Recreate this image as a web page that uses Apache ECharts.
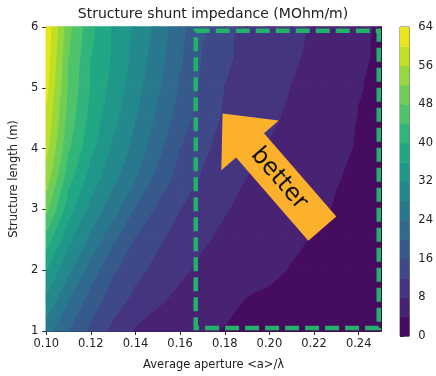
<!DOCTYPE html>
<html>
<head>
<meta charset="utf-8">
<script src="https://cdn.jsdelivr.net/npm/echarts@6/dist/echarts.min.js"></script>
<style>
  html, body { margin: 0; padding: 0; background: #ffffff; }
  #chart { width: 436px; height: 376px; }
</style>
</head>
<body>
<div id="chart"></div>
<script>
// Grid of the scan: average aperture <a>/lambda (columns) and structure length in m (rows)
const apertures = [0.10, 0.11, 0.12, 0.13, 0.14, 0.15, 0.16, 0.17, 0.18, 0.19, 0.20, 0.21, 0.22, 0.23, 0.24, 0.25];
const lengths = [1.0, 1.5, 2.0, 2.5, 3.0, 3.5, 4.0, 4.5, 5.0, 5.5, 6.0];

// Structure shunt impedance (MOhm/m), one row per length
const impedanceL10 = [25.5, 20.0, 15.0, 10.8, 7.5, 6.3, 5.4, 4.5, 3.8, 3.4, 3.1, 2.9, 2.7, 2.5, 2.3, 2.1];
const impedanceL15 = [31.0, 24.0, 18.0, 13.8, 10.8, 8.5, 7.1, 5.9, 4.8, 3.8, 3.4, 3.2, 3.0, 2.8, 2.6, 2.4];
const impedanceL20 = [36.0, 28.7, 22.0, 16.5, 13.2, 10.7, 8.6, 7.3, 6.4, 5.5, 4.6, 3.8, 3.5, 3.2, 3.0, 2.8];
const impedanceL25 = [42.0, 32.9, 26.9, 20.7, 15.7, 12.6, 10.4, 8.4, 7.3, 6.3, 5.4, 4.5, 3.8, 3.5, 3.2, 3.0];
const impedanceL30 = [49.0, 37.6, 30.5, 25.5, 19.5, 15.1, 12.0, 10.1, 8.2, 7.2, 6.3, 5.4, 4.5, 3.8, 3.5, 3.2];
const impedanceL35 = [54.0, 41.1, 34.0, 28.9, 24.0, 18.5, 14.3, 11.5, 9.6, 7.9, 7.0, 6.0, 5.0, 4.1, 3.6, 3.3];
const impedanceL40 = [57.0, 44.4, 36.9, 31.1, 26.5, 21.1, 16.0, 12.7, 10.7, 9.1, 7.7, 6.6, 5.6, 4.5, 3.8, 3.4];
const impedanceL45 = [59.0, 46.2, 38.4, 33.1, 28.0, 23.0, 18.0, 14.0, 11.4, 10.0, 8.6, 7.3, 6.1, 4.9, 3.9, 3.5];
const impedanceL50 = [61.0, 47.2, 39.5, 34.5, 29.5, 24.5, 19.5, 15.0, 11.9, 10.5, 9.2, 7.9, 6.6, 5.4, 4.1, 3.6];
const impedanceL55 = [62.0, 48.0, 40.0, 35.3, 30.5, 25.5, 20.5, 15.7, 12.6, 11.0, 9.75, 8.5, 7.2, 5.8, 4.4, 3.6];
const impedanceL60 = [63.0, 49.0, 41.0, 35.5, 31.0, 26.5, 21.0, 16.5, 12.8, 11.0, 9.8, 8.8, 7.6, 6.0, 4.6, 3.6];

// Filled contour levels and tick labels
const levels = [0, 4, 8, 12, 16, 20, 24, 28, 32, 36, 40, 44, 48, 52, 56, 60, 64];
const xTicks = [0.10, 0.12, 0.14, 0.16, 0.18, 0.20, 0.22, 0.24];
const yTicks = [1, 2, 3, 4, 5, 6];
const colorbarTicks = [0, 8, 16, 24, 32, 40, 48, 56, 64];

// Highlighted parameter region (aperture range, length range) and the "better" arrow
const regionAperture = [0.167, 0.249];
const regionLength = [1.05, 5.94];
const arrowTail = [0.2237, 2.683];
const arrowTip = [0.179, 4.576];
const arrowText = 'better';

const impedance = [impedanceL10, impedanceL15, impedanceL20, impedanceL25, impedanceL30,
  impedanceL35, impedanceL40, impedanceL45, impedanceL50, impedanceL55, impedanceL60];

// viridis, sampled at the centre of each band
const bandColors = ['#460c5f', '#482273', '#453580', '#3f4989', '#375a8c', '#306a8e', '#29798e', '#24898d',
  '#1f988a', '#22a785', '#32b57a', '#4ec36b', '#70ce57', '#97d83f', '#c1e024', '#eae51d'];

const FONT = 'DejaVu Sans';
const INK = '#222';

// Clip a polygon whose vertices carry a linearly varying value against value >= level (or <= level)
function clipByValue(poly, level, keepAbove) {
  const out = [];
  const inside = p => keepAbove ? p.v >= level : p.v <= level;
  for (let n = 0; n < poly.length; n++) {
    const P = poly[n], Q = poly[(n + 1) % poly.length];
    const pin = inside(P), qin = inside(Q);
    if (pin) out.push(P);
    if (pin !== qin) {
      const t = (level - P.v) / (Q.v - P.v);
      out.push({ x: P.x + t * (Q.x - P.x), y: P.y + t * (Q.y - P.y), v: level });
    }
  }
  return out;
}

// One grid cell -> filled contour bands (two linear triangles)
function renderCell(params, api) {
  const i = api.value(0), j = api.value(1);
  const c = [[i, j], [i + 1, j], [i + 1, j + 1], [i, j + 1]].map(([ci, cj]) => {
    const p = api.coord([apertures[ci], lengths[cj]]);
    return { x: p[0], y: p[1], v: impedance[cj][ci] };
  });
  const tris = [[c[0], c[1], c[2]], [c[0], c[2], c[3]]];
  const children = [];
  const nb = levels.length - 1;
  tris.forEach(tri => {
    const vs = tri.map(p => p.v);
    const vmin = Math.min.apply(null, vs), vmax = Math.max.apply(null, vs);
    for (let k = 0; k < nb; k++) {
      const lo = k === 0 ? -Infinity : levels[k];
      const hi = k === nb - 1 ? Infinity : levels[k + 1];
      if (vmax < lo || vmin > hi) continue;
      let poly = clipByValue(tri, lo, true);
      if (poly.length < 3) continue;
      poly = clipByValue(poly, hi, false);
      if (poly.length < 3) continue;
      children.push({
        type: 'polygon',
        shape: { points: poly.map(p => [p.x, p.y]) },
        style: { fill: bandColors[k], stroke: bandColors[k], lineWidth: 1.3, lineJoin: 'round' },
        silent: true
      });
    }
  });
  return { type: 'group', children };
}

const cells = [];
for (let j = 0; j < lengths.length - 1; j++) {
  for (let i = 0; i < apertures.length - 1; i++) cells.push([i, j]);
}
const bands = bandColors.map((_, k) => [k]);

function renderBand(params, api) {
  const k = api.value(0);
  const p0 = api.coord([0, levels[k]]);
  const p1 = api.coord([1, levels[k + 1]]);
  return {
    type: 'rect',
    shape: { x: p0[0], y: p1[1], width: p1[0] - p0[0], height: p0[1] - p1[1] + 0.5 },
    style: { fill: bandColors[k] }
  };
}

function renderRegion(params, api) {
  const p0 = api.coord([regionAperture[0], regionLength[1]]);
  const p1 = api.coord([regionAperture[1], regionLength[0]]);
  return {
    type: 'rect',
    shape: { x: p0[0], y: p0[1], width: p1[0] - p0[0], height: p1[1] - p0[1] },
    style: { fill: 'none', stroke: '#22b26a', lineWidth: 4.5, lineDash: [14, 6] }
  };
}

function renderArrow(params, api) {
  const tail = api.coord(arrowTail);
  const tip = api.coord(arrowTip);
  const dx = tip[0] - tail[0], dy = tip[1] - tail[1];
  const len = Math.hypot(dx, dy);
  const ux = dx / len, uy = dy / len;      // towards the tip
  const px = -uy, py = ux;                  // perpendicular
  const shaftHalf = 18.5, headHalf = 38, headLen = 42;
  const bx = tip[0] - ux * headLen, by = tip[1] - uy * headLen;
  const pts = [
    [tail[0] + px * shaftHalf, tail[1] + py * shaftHalf],
    [bx + px * shaftHalf, by + py * shaftHalf],
    [bx + px * headHalf, by + py * headHalf],
    [tip[0], tip[1]],
    [bx - px * headHalf, by - py * headHalf],
    [bx - px * shaftHalf, by - py * shaftHalf],
    [tail[0] - px * shaftHalf, tail[1] - py * shaftHalf]
  ];
  const f = 0.6;
  const tx = tail[0] + (bx - tail[0]) * f, ty = tail[1] + (by - tail[1]) * f;
  return {
    type: 'group',
    children: [
      { type: 'polygon', shape: { points: pts }, style: { fill: '#fbb12c' } },
      {
        type: 'text', x: tx, y: ty, rotation: -Math.atan2(-dy, -dx),
        style: { text: arrowText, fontSize: 24, fontFamily: FONT, fill: '#111', align: 'center', verticalAlign: 'middle' }
      }
    ]
  };
}

const chart = echarts.init(document.getElementById('chart'), null, { renderer: 'canvas' });

const axisLine = { show: true, lineStyle: { color: INK, width: 1 } };
const axisTick = { show: true, length: 4, lineStyle: { color: INK, width: 1 } };
const labelStyle = { color: INK, fontSize: 11.5, fontFamily: FONT };

chart.setOption({
  animation: false,
  backgroundColor: '#ffffff',
  graphic: [{
    type: 'text', x: 213, y: 14.5,
    style: { text: 'Structure shunt impedance (MOhm/m)', fontSize: 14, fontFamily: FONT, fill: INK, align: 'center', verticalAlign: 'middle' }
  }],
  grid: [
    { left: 45, top: 27, width: 336, height: 309, containLabel: false },
    { left: 400, top: 27, width: 15, height: 309, containLabel: false, show: true, borderColor: '#444', borderWidth: 0.8 }
  ],
  xAxis: [
    {
      type: 'value', gridIndex: 0, min: 0.10, max: 0.25,
      name: 'Average aperture <a>/λ', nameLocation: 'middle', nameGap: 28,
      nameTextStyle: { color: INK, fontSize: 11.5, fontFamily: FONT, verticalAlign: 'top' },
      axisLine, axisTick: Object.assign({ customValues: xTicks }, axisTick),
      axisLabel: Object.assign({ customValues: xTicks, margin: 7, formatter: v => v.toFixed(2) }, labelStyle),
      splitLine: { show: false }
    },
    {
      type: 'value', gridIndex: 0, min: 0.10, max: 0.25, position: 'top',
      axisLine, axisTick: { show: false }, axisLabel: { show: false }, splitLine: { show: false }
    },
    {
      type: 'value', gridIndex: 1, min: 0, max: 1, show: false
    }
  ],
  yAxis: [
    {
      type: 'value', gridIndex: 0, min: 1, max: 6, interval: 1,
      name: 'Structure length (m)', nameLocation: 'middle', nameGap: 17, nameRotate: 90,
      nameTextStyle: { color: INK, fontSize: 11.5, fontFamily: FONT },
      axisLine, axisTick: Object.assign({ customValues: yTicks }, axisTick),
      axisLabel: Object.assign({ customValues: yTicks, margin: 8 }, labelStyle),
      splitLine: { show: false }
    },
    {
      type: 'value', gridIndex: 0, min: 1, max: 6, position: 'right',
      axisLine, axisTick: { show: false }, axisLabel: { show: false }, splitLine: { show: false }
    },
    {
      type: 'value', gridIndex: 1, min: 0, max: 64, interval: 8, position: 'right',
      axisLine: { show: false },
      axisTick: { show: true, length: 4, lineStyle: { color: '#333', width: 1 } },
      axisLabel: Object.assign({ customValues: colorbarTicks, margin: 9 }, labelStyle),
      splitLine: { show: false }
    }
  ],
  series: [
    {
      type: 'custom', name: 'impedance', xAxisIndex: 0, yAxisIndex: 0,
      data: cells, renderItem: renderCell, silent: true, z: 1
    },
    {
      type: 'custom', name: 'colorbar', xAxisIndex: 2, yAxisIndex: 2,
      data: bands, renderItem: renderBand, silent: true, z: 1
    },
    {
      type: 'custom', name: 'region', xAxisIndex: 0, yAxisIndex: 0,
      data: [[0]], renderItem: renderRegion, silent: true, z: 3
    },
    {
      type: 'custom', name: 'arrow', xAxisIndex: 0, yAxisIndex: 0,
      data: [[0]], renderItem: renderArrow, silent: true, z: 4
    }
  ]
});
</script>
</body>
</html>
